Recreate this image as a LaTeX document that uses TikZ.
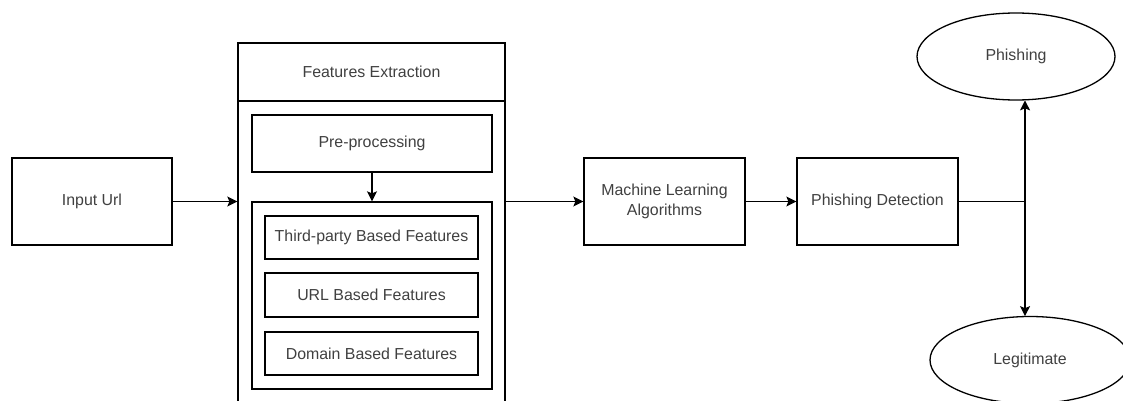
\documentclass[tikz,border=0pt]{standalone}
\usepackage{fontspec}
\setmainfont{Liberation Sans}
\usetikzlibrary{arrows.meta,calc,shapes,positioning}
\definecolor{txtgray}{gray}{0.25}

\begin{document}
\begin{tikzpicture}[x=1pt,y=-1pt,>={Stealth[length=10pt,width=10pt,inset=2pt]},line width=1.3pt,
   box/.style={draw=black,rectangle,inner sep=0pt,align=center,text=txtgray},
   oval/.style={draw=black,ellipse,inner sep=0pt,text=txtgray},
   font=\fontsize{15.9}{19.5}\selectfont]

   \useasboundingbox (0,0) rectangle (1123,401);

   % left part
   \node[box,minimum width=160pt,minimum height=87pt] (input) at (92,201.5) {Input Url};

   \node[box,minimum width=267pt,minimum height=380pt] (fex) at (371.5,233) {};
   \node[draw=none,text=txtgray] (fextitle) at (371.5,72) {Features Extraction};
   \draw (fex.north west |- 0,101) -- (fex.north east |- 0,101);

   \node[box,minimum width=240pt,minimum height=57pt] (pre) at (372,143.5) {Pre-processing};
   \node[box,minimum width=240pt,minimum height=187pt] (inner) at (372,295.5) {};
   \node[box,minimum width=213pt,minimum height=43pt] (third) at (371.5,237.5) {Third-party Based Features};
   \node[box,minimum width=213pt,minimum height=44pt] (url) at (371.5,295) {URL Based Features};
   \node[box,minimum width=213pt,minimum height=43pt] (domain) at (371.5,353.5) {Domain Based Features};

   % right part
   \node[box,minimum width=161pt,minimum height=87pt] (ml) at (664.5,201.5) {Machine Learning\\Algorithms};
   \node[box,minimum width=161pt,minimum height=87pt] (det) at (877.5,201.5) {Phishing Detection};
   \node[oval,minimum width=198pt,minimum height=87pt] (phish) at (1016,56.5) {Phishing};
   \node[oval,minimum width=200pt,minimum height=87pt] (legit) at (1030,360) {Legitimate};
   \coordinate (split) at (1025,201.5);

   % connectors
   \draw[->] (input.east) -- (input.east -| fex.west);
   \draw[->] (pre.south) -- (inner.north);
   \draw[->] (fex.east |- ml.west) -- (ml.west);
   \draw[->] (ml.east) -- (det.west);
   \draw (det.east) -- (split);
   \draw[->] (split) -- ($(split |- phish.south)+(0,-0.3)$);
   \draw[->] (split) -- ($(split |- legit.north)+(0,0.3)$);

\end{tikzpicture}
\end{document}
